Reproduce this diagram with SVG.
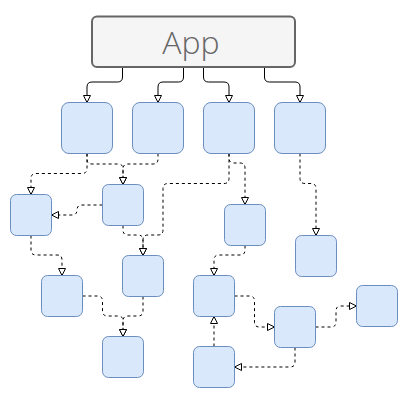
<svg xmlns="http://www.w3.org/2000/svg" width="413" height="400" viewBox="0 0 413 400">
<style>
.n{fill:#dae8fc;stroke:#6c8ebf;stroke-width:1}
.e{fill:none;stroke:#000;stroke-width:1;marker-end:url(#arr)}
.d{stroke-dasharray:3 3}
</style>
<defs>
<marker id="arr" markerUnits="userSpaceOnUse" markerWidth="10" markerHeight="9" refX="8" refY="4.5" orient="auto" overflow="visible">
<path d="M1,1 L8,4.5 L1,8 Z" fill="#fff" stroke="#000" stroke-width="1" stroke-dasharray="none"/>
</marker>
</defs>
<rect width="413" height="400" fill="#fff"/>
<g id="edges">
<path class="e" d="M122.5 67.5 V77 Q122.5 82 117.5 82 H92 Q87 82 87 87 V102.5"/>
<path class="e" d="M183.5 67.5 V77 Q183.5 82 178.5 82 H163 Q158 82 158 87 V102.5"/>
<path class="e" d="M203.5 67.5 V77 Q203.5 82 208.5 82 H224 Q229 82 229 87 V102.5"/>
<path class="e" d="M264.5 67.5 V77 Q264.5 82 269.5 82 H295 Q300 82 300 87 V102.5"/>
<path class="e d" d="M87 153.5 V168.5 Q87 173.5 82 173.5 H36 Q31 173.5 31 178.5 V194.5"/>
<path class="e d" d="M87 153.5 V159 Q87 164 92 164 H118 Q123 164 123 169 V184.5"/>
<path class="e d" d="M158 153.5 V159 Q158 164 153 164 H128 Q123 164 123 169 V184.5"/>
<path class="e d" d="M102.5 205 H82 Q77 205 77 210 Q77 215 72 215 H51.5"/>
<path class="e d" d="M123 225.5 V230 Q123 235 128 235 H138 Q143 235 143 240 V255.5"/>
<path class="e d" d="M229 153.5 V178.5 Q229 183.5 224 183.5 H168 Q163 183.5 163 188.5 V230 Q163 235 158 235 H148 Q143 235 143 240 V255.5"/>
<path class="e d" d="M229 153.5 V158 Q229 163 234 163 H240 Q245 163 245 168 V204.5"/>
<path class="e d" d="M300 153.5 V178.5 Q300 183.5 305 183.5 H311 Q316 183.5 316 188.5 V235.5"/>
<path class="e d" d="M31 235.5 V250 Q31 255 36 255 H57 Q62 255 62 260 V275.5"/>
<path class="e d" d="M82.5 296 H97.5 Q102.5 296 102.5 301 V311 Q102.5 316 107.5 316 H118 Q123 316 123 321 V336.5"/>
<path class="e d" d="M143 296.5 V311 Q143 316 138 316 H128 Q123 316 123 321 V336.5"/>
<path class="e d" d="M245 245.5 V250 Q245 255 240 255 H219 Q214 255 214 260 V275.5"/>
<path class="e d" d="M234.5 296 H249.5 Q254.5 296 254.5 301 V322 Q254.5 327 259.5 327 H274.5"/>
<path class="e d" d="M315.5 327 H331 Q336 327 336 322 V311 Q336 306 341 306 H356.5"/>
<path class="e d" d="M295 347.5 V362 Q295 367 290 367 H234.5"/>
<path class="e d" d="M214 346.5 V316.5"/>
</g>
<g id="app">
<rect x="92" y="16.5" width="203" height="50.5" rx="5" fill="#f5f5f5" stroke="#666" stroke-width="2"/>
<text x="191" y="53.5" text-anchor="middle" font-family="'Open Sans', 'DejaVu Sans', sans-serif" font-weight="300" font-size="32" fill="#666">App</text>
</g>
<g id="n1"><rect class="n" x="61.5" y="102.5" width="51" height="51" rx="7.5"/></g>
<g id="n2"><rect class="n" x="132.5" y="102.5" width="51" height="51" rx="7.5"/></g>
<g id="n3"><rect class="n" x="203.5" y="102.5" width="51" height="51" rx="7.5"/></g>
<g id="n4"><rect class="n" x="274.5" y="102.5" width="51" height="51" rx="7.5"/></g>
<g id="a"><rect class="n" x="10.5" y="194.5" width="41" height="41" rx="6"/></g>
<g id="b"><rect class="n" x="102.5" y="184.5" width="41" height="41" rx="6"/></g>
<g id="c"><rect class="n" x="122.5" y="255.5" width="41" height="41" rx="6"/></g>
<g id="d"><rect class="n" x="41.5" y="275.5" width="41" height="41" rx="6"/></g>
<g id="e"><rect class="n" x="102.5" y="336.5" width="41" height="41" rx="6"/></g>
<g id="f"><rect class="n" x="224.5" y="204.5" width="41" height="41" rx="6"/></g>
<g id="g"><rect class="n" x="295.5" y="235.5" width="41" height="41" rx="6"/></g>
<g id="h"><rect class="n" x="193.5" y="275.5" width="41" height="41" rx="6"/></g>
<g id="i"><rect class="n" x="274.5" y="306.5" width="41" height="41" rx="6"/></g>
<g id="j"><rect class="n" x="356.5" y="285.5" width="41" height="41" rx="6"/></g>
<g id="k"><rect class="n" x="193.5" y="346.5" width="41" height="41" rx="6"/></g>
</svg>
